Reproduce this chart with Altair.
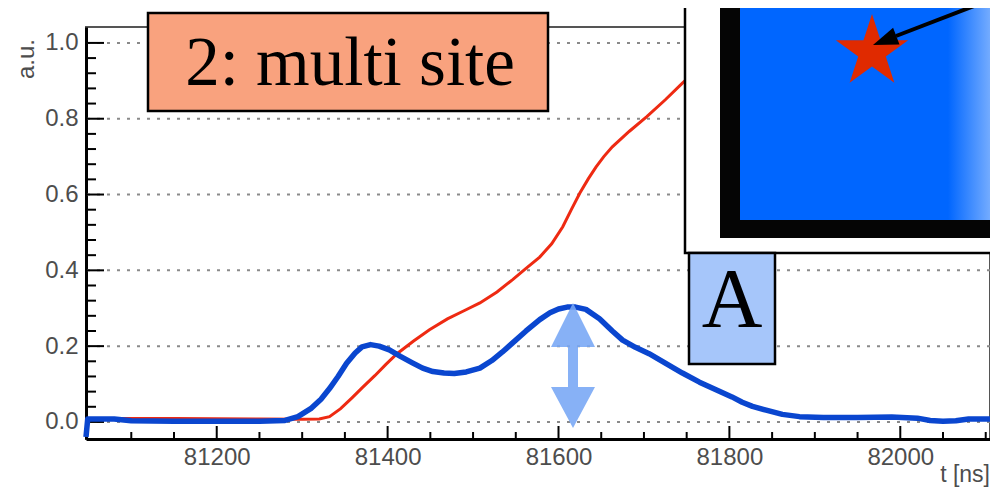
import altair as alt
import pandas as pd

# ---- data ----
blue_t = [81047, 81049, 81080, 81100, 81150, 81200, 81250, 81280, 81295, 81310, 81322, 81332,
          81342, 81352, 81362, 81370, 81380, 81390, 81402, 81415, 81429, 81441, 81453, 81466,
          81478, 81492, 81508, 81522, 81534, 81546, 81562, 81578, 81590, 81600, 81610, 81620,
          81632, 81648, 81663, 81675, 81690, 81706, 81725, 81745, 81765, 81785, 81803, 81815,
          81827, 81843, 81862, 81882, 81910, 81950, 81990, 82020, 82035, 82050, 82065, 82080,
          82105]
blue_v = [-0.04, 0.008, 0.008, 0.003, 0.002, 0.002, 0.002, 0.004, 0.014, 0.035, 0.06, 0.088,
          0.12, 0.155, 0.182, 0.198, 0.204, 0.2, 0.19, 0.173, 0.156, 0.142, 0.133, 0.129,
          0.128, 0.132, 0.142, 0.162, 0.184, 0.208, 0.24, 0.27, 0.288, 0.298, 0.303, 0.303,
          0.297, 0.272, 0.24, 0.216, 0.197, 0.18, 0.155, 0.129, 0.105, 0.084, 0.066, 0.052,
          0.041, 0.031, 0.02, 0.014, 0.012, 0.012, 0.013, 0.01, 0.004, 0.002, 0.003, 0.008,
          0.008]

red_t = [81060, 81150, 81250, 81300, 81320, 81332, 81345, 81358, 81371, 81385, 81398, 81411,
         81430, 81449, 81470, 81490, 81508, 81528, 81546, 81562, 81578, 81592, 81605, 81615,
         81625, 81635, 81644, 81653, 81663, 81683, 81703, 81725, 81745, 81765, 81785]
red_v = [0.009, 0.009, 0.008, 0.007, 0.008, 0.014, 0.035, 0.063, 0.092, 0.122, 0.152, 0.18,
         0.213, 0.243, 0.272, 0.294, 0.314, 0.343, 0.375, 0.405, 0.435, 0.47, 0.515, 0.56,
         0.604, 0.642, 0.673, 0.7, 0.726, 0.767, 0.805, 0.85, 0.894, 0.935, 0.97]

y_major = [0.0, 0.2, 0.4, 0.6, 0.8, 1.0]
y_minor = [0.04, 0.08, 0.12, 0.16, 0.24, 0.28, 0.32, 0.36, 0.44, 0.48, 0.52, 0.56,
           0.64, 0.68, 0.72, 0.76, 0.84, 0.88, 0.92, 0.96]
x_major = [81200, 81400, 81600, 81800, 82000]
x_minor = [81100, 81150, 81250, 81300, 81350, 81450, 81500, 81550, 81650, 81700, 81750,
           81850, 81900, 81950, 82050, 82100]

W, H = 904, 412
LABEL_FONT = "Liberation Sans"
SERIF = "Liberation Serif"
GRAY = "#4d4d4d"

xscale = alt.Scale(domain=[81047, 82105], nice=False, zero=False)
yscale = alt.Scale(domain=[-0.045, 1.042], nice=False, zero=False)
xaxis = alt.Axis(values=x_major, format="d", labelFont=LABEL_FONT, labelFontSize=24,
                 labelColor=GRAY, tickSize=0, labelPadding=6, domainColor="black",
                 domainWidth=3, grid=False, title=None, labelFlush=False, labelOverlap=False)
yaxis = alt.Axis(values=y_major, format=".1f", labelFont=LABEL_FONT, labelFontSize=24,
                 labelColor=GRAY, tickSize=0, labelPadding=8, domainColor="black",
                 domainWidth=3, grid=False, title=None, labelFlush=False, labelOverlap=False)


def X(f="t"):
    return alt.X(f"{f}:Q", scale=xscale, axis=xaxis)


def Y(f="v"):
    return alt.Y(f"{f}:Q", scale=yscale, axis=yaxis)


blue_df = pd.DataFrame({"t": blue_t, "v": blue_v})
red_df = pd.DataFrame({"t": red_t, "v": red_v})
ymaj_df = pd.DataFrame({"v": y_major})
ymin_df = pd.DataFrame({"v": y_minor})
xmaj_df = pd.DataFrame({"t": x_major})
xmin_df = pd.DataFrame({"t": x_minor})
one = pd.DataFrame({"k": [0]})

grid = alt.Chart(ymaj_df).mark_rule(color="#8a8a8a", strokeWidth=2, strokeDash=[3, 7]).encode(y=Y())
ytick_maj = alt.Chart(ymaj_df).mark_rule(color="black", strokeWidth=2).encode(
    y=Y(), x=alt.value(0), x2=alt.value(18))
ytick_min = alt.Chart(ymin_df).mark_rule(color="black", strokeWidth=2).encode(
    y=Y(), x=alt.value(0), x2=alt.value(10))
xtick_maj = alt.Chart(xmaj_df).mark_rule(color="black", strokeWidth=2).encode(
    x=X(), y=alt.value(H), y2=alt.value(H - 13))
xtick_min = alt.Chart(xmin_df).mark_rule(color="black", strokeWidth=2).encode(
    x=X(), y=alt.value(H), y2=alt.value(H - 7))

red = alt.Chart(red_df).mark_line(color="#ee2a12", strokeWidth=3).encode(x=X(), y=Y())
blue = alt.Chart(blue_df).mark_line(color="#0a46cf", strokeWidth=5.5, strokeJoin="round").encode(
    x=X(), y=Y())

# double-headed arrow (semi transparent)
darrow = alt.Chart(one).mark_point(
    shape="M0,0L22,44L5,44L5,84L22,84L0,125L-22,84L-5,84L-5,44L-22,44Z",
    size=4, filled=True, color="#76a6f5", opacity=0.88).encode(x=alt.value(487), y=alt.value(276))

# "2: multi site" label box
box1 = alt.Chart(one).mark_rect(fill="#f9a27e", stroke="black", strokeWidth=2.5).encode(
    x=alt.value(62), x2=alt.value(462), y=alt.value(-14), y2=alt.value(84))
txt1 = alt.Chart(one).mark_text(text="2: multi site", font=SERIF, fontSize=69, align="center",
                                baseline="alphabetic", color="black").encode(
    x=alt.value(264), y=alt.value(58))

# inset picture (top right)
inset_bg = alt.Chart(one).mark_rect(fill="white", stroke="black", strokeWidth=2.5).encode(
    x=alt.value(599), x2=alt.value(930), y=alt.value(-40), y2=alt.value(226))
inset_frame = alt.Chart(one).mark_rect(fill="#050505").encode(
    x=alt.value(634), x2=alt.value(930), y=alt.value(-40), y2=alt.value(211))
inset_blue = alt.Chart(one).mark_rect(fill="#0066ff").encode(
    x=alt.value(654), x2=alt.value(930), y=alt.value(-40), y2=alt.value(193))
inset_grad = alt.Chart(one).mark_rect(
    color=alt.Gradient(gradient="linear",
                       stops=[alt.GradientStop(color="#0066ff", offset=0),
                              alt.GradientStop(color="#8fbcff", offset=1)],
                       x1=0, x2=1, y1=0, y2=0)).encode(
    x=alt.value(862), x2=alt.value(914), y=alt.value(-40), y2=alt.value(193))
star = alt.Chart(one).mark_point(
    shape="M0,-1L0.2245,-0.309L0.951,-0.309L0.363,0.118L0.588,0.809L0,0.382L-0.588,0.809"
          "L-0.363,0.118L-0.951,-0.309L-0.2245,-0.309Z",
    size=5776, filled=True, color="#e02a00", opacity=1).encode(x=alt.value(786), y=alt.value(25))
arrow_line = alt.Chart(one).mark_rule(color="black", strokeWidth=4).encode(
    x=alt.value(914), y=alt.value(-31), x2=alt.value(810), y2=alt.value(9))
arrow_head = alt.Chart(one).mark_point(
    shape="M0,0L26.5,-0.6L20.1,-17.3Z", size=4, filled=True, color="black", opacity=1).encode(
    x=alt.value(787), y=alt.value(18))

# "A" box
box2 = alt.Chart(one).mark_rect(fill="#a6c6fa", stroke="black", strokeWidth=2.5).encode(
    x=alt.value(603), x2=alt.value(689), y=alt.value(226), y2=alt.value(337))
txt2 = alt.Chart(one).mark_text(text="A", font=SERIF, fontSize=84, align="center",
                                baseline="alphabetic", color="black").encode(
    x=alt.value(646), y=alt.value(300))

# axis titles
ytitle = alt.Chart(one).mark_text(text="a.u.", font=LABEL_FONT, fontSize=24, angle=270,
                                  align="right", baseline="middle", color=GRAY).encode(
    x=alt.value(-59), y=alt.value(12))
xtitle = alt.Chart(one).mark_text(text="t [ns]", font=LABEL_FONT, fontSize=23, align="right",
                                  baseline="alphabetic", color=GRAY).encode(
    x=alt.value(904), y=alt.value(455))

chart = alt.layer(
    grid, ytick_maj, ytick_min, xtick_maj, xtick_min, red, blue, darrow,
    box1, txt1, inset_bg, inset_frame, inset_blue, inset_grad, star, arrow_line, arrow_head,
    box2, txt2, ytitle, xtitle
).properties(
    width=W, height=H,
    padding={"left": 78, "top": 19, "right": 0, "bottom": 52},
    autosize=alt.AutoSizeParams(type="none"),
    background="white",
).configure_view(stroke="#555555", strokeWidth=2)

chart.save("out.html", embed_options={"renderer": "svg", "actions": False})
